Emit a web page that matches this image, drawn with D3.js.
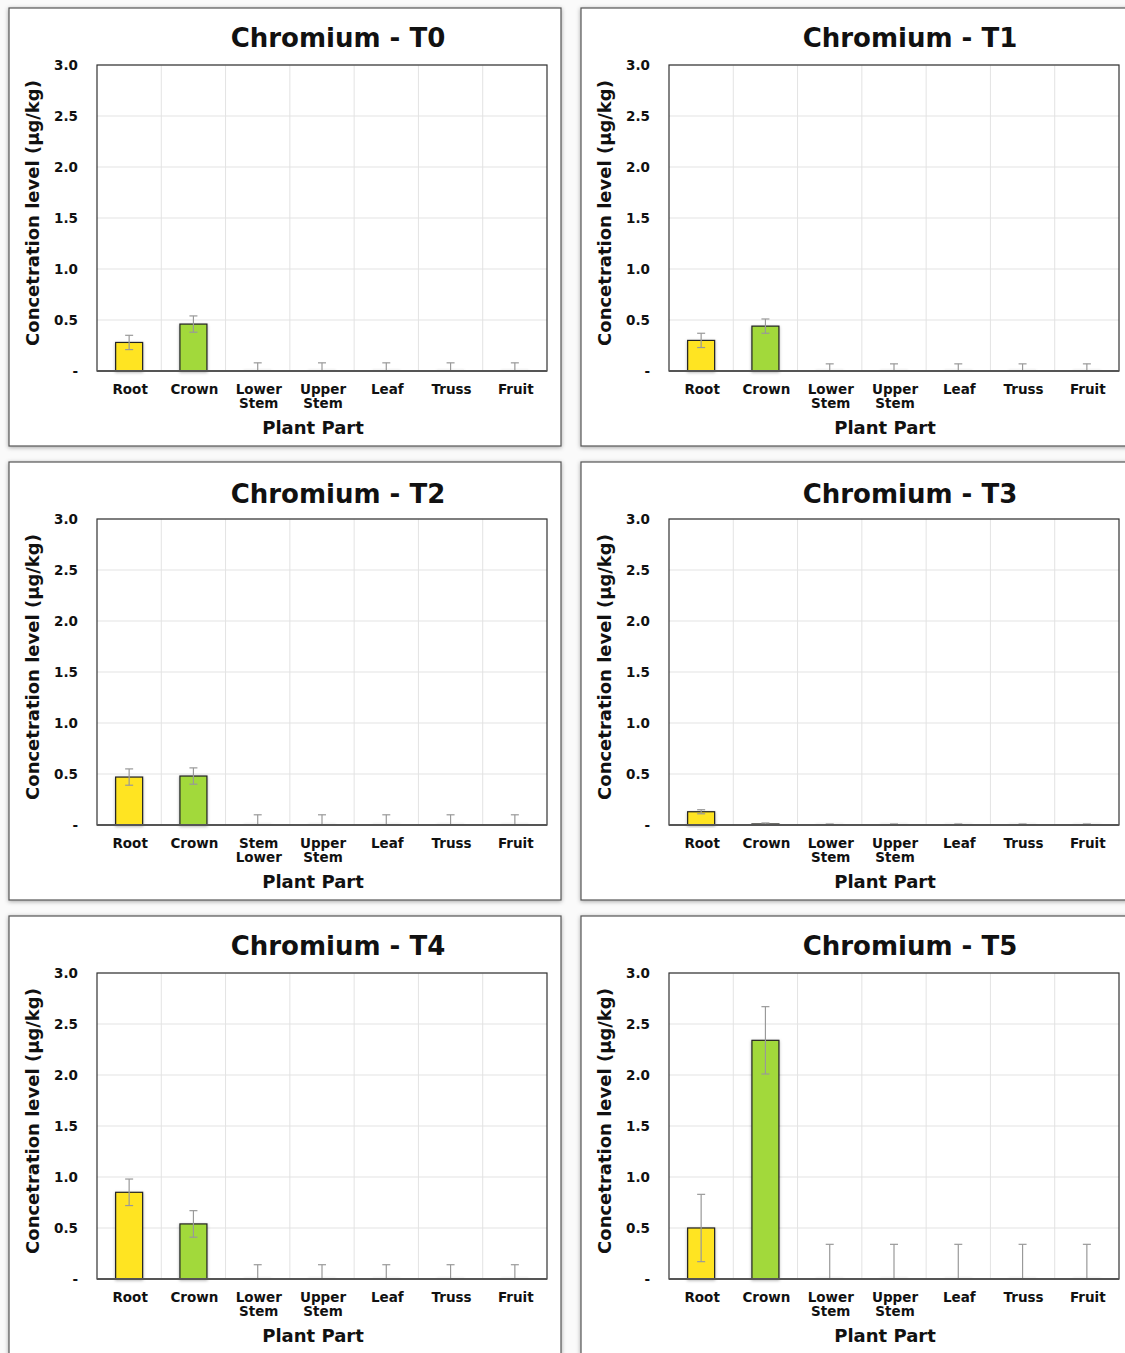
<!DOCTYPE html>
<html>
<head>
<meta charset="utf-8">
<script src="https://cdn.jsdelivr.net/npm/d3@7"></script>
<style>
  body { margin: 0; background: #f4f4f4; }
  text { font-family: "DejaVu Sans", sans-serif; fill: #111; }
</style>
</head>
<body>
<div id="vis"></div>
<script>
const categories = ["Root", "Crown", "Lower Stem", "Upper Stem", "Leaf", "Truss", "Fruit"];
const categoriesT2 = ["Root", "Crown", "Stem Lower", "Upper Stem", "Leaf", "Truss", "Fruit"];
const titles = ["Chromium - T0", "Chromium - T1", "Chromium - T2", "Chromium - T3", "Chromium - T4", "Chromium - T5"];

const meanT0 = [0.28, 0.46, 0, 0, 0, 0, 0];
const meanT1 = [0.30, 0.44, 0, 0, 0, 0, 0];
const meanT2 = [0.47, 0.48, 0, 0, 0, 0, 0];
const meanT3 = [0.13, 0.01, 0, 0, 0, 0, 0];
const meanT4 = [0.85, 0.54, 0, 0, 0, 0, 0];
const meanT5 = [0.50, 2.34, 0, 0, 0, 0, 0];

const errT0 = [0.07, 0.08, 0.08, 0.08, 0.08, 0.08, 0.08];
const errT1 = [0.07, 0.07, 0.07, 0.07, 0.07, 0.07, 0.07];
const errT2 = [0.08, 0.08, 0.10, 0.10, 0.10, 0.10, 0.10];
const errT3 = [0.02, 0.01, 0.01, 0.01, 0.01, 0.01, 0.01];
const errT4 = [0.13, 0.13, 0.14, 0.14, 0.14, 0.14, 0.14];
const errT5 = [0.33, 0.33, 0.34, 0.34, 0.34, 0.34, 0.34];

const yTicks = [0, 0.5, 1.0, 1.5, 2.0, 2.5, 3.0];
const barColors = ["#ffe422", "#a2d93b"];

const panels = [
  {title: titles[0], cats: categories, mean: meanT0, err: errT0},
  {title: titles[1], cats: categories, mean: meanT1, err: errT1},
  {title: titles[2], cats: categoriesT2, mean: meanT2, err: errT2},
  {title: titles[3], cats: categories, mean: meanT3, err: errT3},
  {title: titles[4], cats: categories, mean: meanT4, err: errT4},
  {title: titles[5], cats: categories, mean: meanT5, err: errT5}
];

const W = 1125, H = 1353;
const panelW = 552, panelH = 438;
const panelX = [9, 581];
const panelY = [8, 462, 916];
const plot = {left: 88, top: 57, width: 450, height: 306};

const svg = d3.select("#vis").append("svg").attr("width", W).attr("height", H);

const defs = svg.append("defs");
const shadow = defs.append("filter").attr("id", "shadow")
  .attr("x", "-10%").attr("y", "-10%").attr("width", "130%").attr("height", "130%");
shadow.append("feDropShadow").attr("dx", 0).attr("dy", 1).attr("stdDeviation", 2)
  .attr("flood-color", "#000").attr("flood-opacity", 0.35);
const barShadow = defs.append("filter").attr("id", "barShadow")
  .attr("x", "-30%").attr("y", "-10%").attr("width", "160%").attr("height", "130%");
barShadow.append("feDropShadow").attr("dx", 0).attr("dy", 1).attr("stdDeviation", 1.5)
  .attr("flood-color", "#000").attr("flood-opacity", 0.3);

svg.append("rect").attr("width", W).attr("height", H).attr("fill", "#fafafa");

const x = d3.scaleBand().domain(d3.range(categories.length)).range([0, plot.width]).paddingInner(0).paddingOuter(0);
const y = d3.scaleLinear().domain([0, 3]).range([plot.height, 0]);
const barW = 27;

panels.forEach((p, i) => {
  const px = panelX[i % 2], py = panelY[Math.floor(i / 2)];
  const g = svg.append("g").attr("transform", `translate(${px},${py})`);

  g.append("rect").attr("width", panelW).attr("height", panelH)
    .attr("fill", "#fff").attr("stroke", "#555").attr("stroke-width", 1.2)
    .attr("filter", "url(#shadow)");

  g.append("text").attr("x", 329).attr("y", i >= 2 && i <= 3 ? 41 : 39)
    .attr("text-anchor", "middle").attr("font-size", 26).attr("font-weight", "bold")
    .text(p.title);

  const pg = g.append("g").attr("transform", `translate(${plot.left},${plot.top})`);

  // grid
  pg.selectAll("line.hg").data(yTicks.slice(1)).enter().append("line")
    .attr("x1", 0).attr("x2", plot.width)
    .attr("y1", d => y(d)).attr("y2", d => y(d))
    .attr("stroke", "#e3e3e3").attr("stroke-width", 1);
  pg.selectAll("line.vg").data(d3.range(1, categories.length)).enter().append("line")
    .attr("x1", d => x(d)).attr("x2", d => x(d))
    .attr("y1", 0).attr("y2", plot.height)
    .attr("stroke", "#e3e3e3").attr("stroke-width", 1);

  // y tick labels
  pg.selectAll("text.yt").data(yTicks).enter().append("text")
    .attr("x", -19).attr("y", d => y(d) + 5)
    .attr("text-anchor", "end").attr("font-size", 13.5).attr("font-weight", "bold").attr("fill", "#222")
    .text(d => d === 0 ? "-" : d.toFixed(1));

  // bars
  const rows = p.mean.map((m, j) => ({m, e: p.err[j], j}));
  pg.selectAll("rect.bar").data(rows.filter(d => d.m > 0)).enter().append("rect")
    .attr("x", d => x(d.j) + x.bandwidth() / 2 - barW / 2)
    .attr("y", d => y(d.m))
    .attr("width", barW)
    .attr("height", d => plot.height - y(d.m))
    .attr("fill", d => barColors[d.j] || "#ccc")
    .attr("stroke", "#222").attr("stroke-width", 1.2)
    .attr("filter", "url(#barShadow)");

  // faint bases for empty bars
  pg.selectAll("rect.zero").data(rows.filter(d => d.m === 0)).enter().append("rect")
    .attr("x", d => x(d.j) + x.bandwidth() / 2 - barW / 2)
    .attr("y", plot.height - 2).attr("width", barW).attr("height", 2)
    .attr("fill", "#eee").attr("filter", "url(#barShadow)").attr("opacity", 0.5);

  // error bars
  const eb = pg.selectAll("g.eb").data(rows).enter().append("g")
    .attr("transform", d => `translate(${x(d.j) + x.bandwidth() / 2},0)`);
  eb.append("line")
    .attr("y1", d => y(d.m + d.e)).attr("y2", d => y(Math.max(0, d.m - d.e)))
    .attr("stroke", "#999").attr("stroke-width", 1.2);
  eb.append("line").attr("x1", -4).attr("x2", 4)
    .attr("y1", d => y(d.m + d.e)).attr("y2", d => y(d.m + d.e))
    .attr("stroke", "#999").attr("stroke-width", 1.2);
  eb.filter(d => d.m - d.e > 0).append("line").attr("x1", -4).attr("x2", 4)
    .attr("y1", d => y(d.m - d.e)).attr("y2", d => y(d.m - d.e))
    .attr("stroke", "#999").attr("stroke-width", 1.2);

  // frame
  pg.append("rect").attr("width", plot.width).attr("height", plot.height)
    .attr("fill", "none").attr("stroke", "#333").attr("stroke-width", 1.2);
  pg.append("line").attr("x1", 0).attr("x2", plot.width)
    .attr("y1", plot.height).attr("y2", plot.height)
    .attr("stroke", "#555").attr("stroke-width", 2);

  // x labels
  const xl = pg.selectAll("text.xl").data(p.cats).enter().append("text")
    .attr("x", (d, j) => x(j) + x.bandwidth() / 2 + 1)
    .attr("y", plot.height + 23)
    .attr("text-anchor", "middle").attr("font-size", 13.5).attr("font-weight", "bold").attr("fill", "#222");
  xl.each(function(d) {
    const parts = d.split(" ");
    const t = d3.select(this);
    parts.forEach((s, k) => {
      t.append("tspan").attr("x", t.attr("x")).attr("dy", k === 0 ? 0 : 14).text(s);
    });
  });

  // axis titles
  pg.append("text").attr("x", plot.width / 2 - 9).attr("y", plot.height + 63)
    .attr("text-anchor", "middle").attr("font-size", 18).attr("font-weight", "bold")
    .text("Plant Part");
  pg.append("text")
    .attr("transform", `translate(${-58},${plot.height / 2 - 5}) rotate(-90)`)
    .attr("text-anchor", "middle").attr("font-size", 18).attr("font-weight", "bold")
    .text("Concetration level (µg/kg)");
});
</script>
</body>
</html>
